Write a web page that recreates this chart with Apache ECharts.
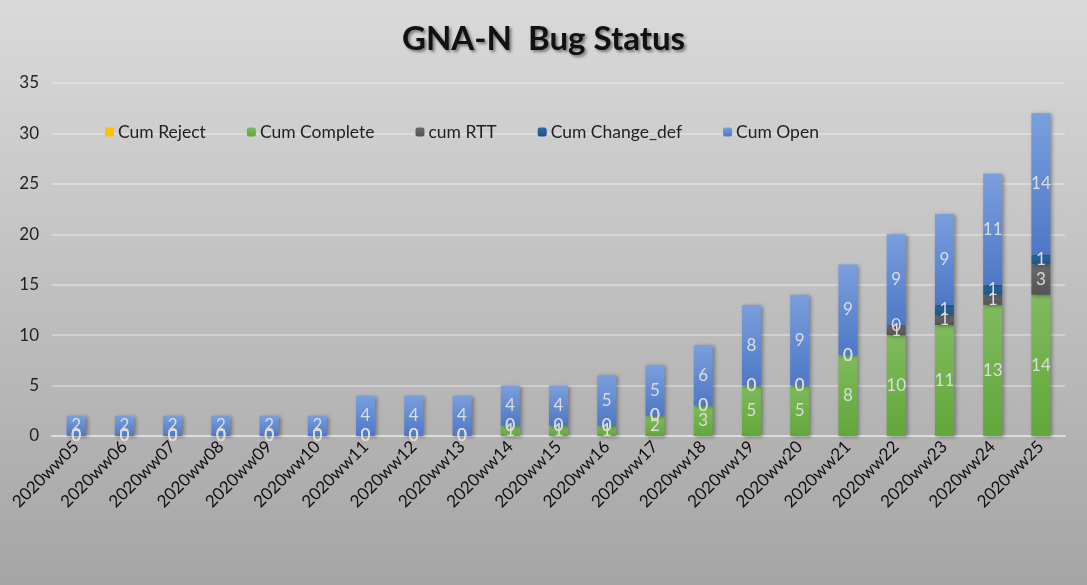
<!DOCTYPE html>
<html style="height: 100%">
<head>
    <meta charset="utf-8">
    <title>GNA-N Bug Status</title>
    <script src="https://cdn.jsdelivr.net/npm/echarts@6/dist/echarts.min.js"></script>
</head>
<body style="height: 100%; margin: 0">
    <div id="main" style="width: 1087px; height: 585px"></div>
    <script>
        // week labels
        var weeks = ['2020ww05', '2020ww06', '2020ww07', '2020ww08', '2020ww09', '2020ww10', '2020ww11',
            '2020ww12', '2020ww13', '2020ww14', '2020ww15', '2020ww16', '2020ww17', '2020ww18', '2020ww19',
            '2020ww20', '2020ww21', '2020ww22', '2020ww23', '2020ww24', '2020ww25'];

        var cumReject = [0, 0, 0, 0, 0, 0, 0, 0, 0, 0, 0, 0, 0, 0, 0, 0, 0, 0, 0, 0, 0];
        var cumComplete = [0, 0, 0, 0, 0, 0, 0, 0, 0, 1, 1, 1, 2, 3, 5, 5, 8, 10, 11, 13, 14];
        var cumRTT = [0, 0, 0, 0, 0, 0, 0, 0, 0, 0, 0, 0, 0, 0, 0, 0, 0, 1, 1, 1, 3];
        var cumChangeDef = [0, 0, 0, 0, 0, 0, 0, 0, 0, 0, 0, 0, 0, 0, 0, 0, 0, 0, 1, 1, 1];
        var cumOpen = [2, 2, 2, 2, 2, 2, 4, 4, 4, 4, 4, 5, 5, 6, 8, 9, 9, 9, 9, 11, 14];

        var FONT = 'Lato, "Open Sans", sans-serif';

        function grad(top, bottom) {
            return new echarts.graphic.LinearGradient(0, 0, 0, 1, [
                {offset: 0, color: top},
                {offset: 1, color: bottom}
            ]);
        }

        function barSeries(name, data, color, withLabel) {
            return {
                name: name,
                type: 'bar',
                stack: 'total',
                barWidth: 19,
                data: data,
                itemStyle: {
                    color: color,
                    shadowColor: 'rgba(0,0,0,0.35)',
                    shadowBlur: 4,
                    shadowOffsetX: 2,
                    shadowOffsetY: 1
                },
                label: {
                    show: withLabel,
                    position: 'inside',
                    color: '#dcdcdc',
                    fontSize: 17,
                    fontFamily: FONT
                }
            };
        }

        var myChart = echarts.init(document.getElementById('main'));

        myChart.setOption({
            backgroundColor: grad('#dadada', '#a5a5a5'),
            title: {
                text: 'GNA-N  Bug Status',
                left: 'center',
                top: 18,
                textStyle: {
                    fontFamily: FONT,
                    fontSize: 33,
                    fontWeight: 'bold',
                    color: '#111',
                    textShadowColor: 'rgba(0,0,0,0.45)',
                    textShadowBlur: 3,
                    textShadowOffsetX: 2,
                    textShadowOffsetY: 2
                }
            },
            legend: {
                left: 100,
                top: 118,
                itemWidth: 9,
                itemHeight: 9,
                itemGap: 41,
                textStyle: {
                    fontFamily: FONT,
                    fontSize: 17.5,
                    color: '#222',
                    padding: [0, 0, 0, -1]
                },
                data: ['Cum Reject', 'Cum Complete', 'cum RTT', 'Cum Change_def', 'Cum Open']
            },
            grid: {
                left: 52,
                right: 22,
                top: 83,
                bottom: 149
            },
            xAxis: {
                type: 'category',
                data: weeks,
                axisTick: {show: false},
                axisLine: {lineStyle: {color: '#dedede', width: 2}},
                axisLabel: {
                    rotate: 45,
                    interval: 0,
                    fontFamily: FONT,
                    fontSize: 17,
                    color: '#111',
                    margin: 8
                }
            },
            yAxis: {
                type: 'value',
                min: 0,
                max: 35,
                interval: 5,
                axisLine: {show: false},
                axisTick: {show: false},
                axisLabel: {
                    fontFamily: FONT,
                    fontSize: 17,
                    color: '#222',
                    margin: 13
                },
                splitLine: {lineStyle: {color: 'rgba(240,240,240,0.55)', width: 1.5}}
            },
            series: [
                barSeries('Cum Reject', cumReject, '#ffc000', false),
                barSeries('Cum Complete', cumComplete, grad('#7fbb5c', '#62a73a'), true),
                barSeries('cum RTT', cumRTT, grad('#6a6a6a', '#545454'), true),
                barSeries('Cum Change_def', cumChangeDef, grad('#2b6aa3', '#1f5285'), true),
                barSeries('Cum Open', cumOpen, grad('#7a9fdd', '#4d78c7'), true)
            ]
        });
    </script>
</body>
</html>
